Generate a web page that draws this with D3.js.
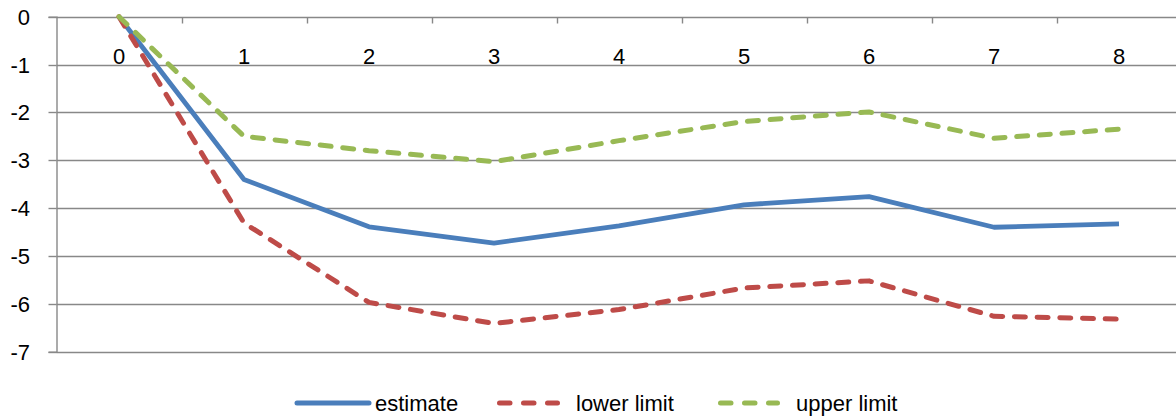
<!DOCTYPE html>
<html>
<head>
<meta charset="utf-8">
<script src="https://cdn.jsdelivr.net/npm/d3@7/dist/d3.min.js"></script>
<style>
  html, body { margin: 0; padding: 0; background: #fff; }
  svg { display: block; }
  text { font-family: "Liberation Sans", Arial, sans-serif; fill: #000; }
</style>
</head>
<body>
<svg id="chart" width="1176" height="418"></svg>
<script>
const categories = ["0", "1", "2", "3", "4", "5", "6", "7", "8"];
const estimate   = [0, -3.40, -4.39, -4.73, -4.37, -3.93, -3.76, -4.40, -4.33];
const lowerLimit = [0, -4.31, -5.97, -6.41, -6.12, -5.67, -5.52, -6.26, -6.32];
const upperLimit = [0, -2.50, -2.80, -3.03, -2.59, -2.19, -1.99, -2.54, -2.35];
const yTicks = [0, -1, -2, -3, -4, -5, -6, -7];
const seriesNames = ["estimate", "lower limit", "upper limit"];

const series = [
  { name: seriesNames[0], values: estimate,   color: "#4A7EBB", dash: null },
  { name: seriesNames[1], values: lowerLimit, color: "#BE4B48", dash: "11,11.7" },
  { name: seriesNames[2], values: upperLimit, color: "#98B954", dash: "11,11.7" }
];

const FS = 22;
const FF = "Liberation Sans, Arial, sans-serif";
const svg = d3.select("#chart");
const plotLeft = 56.5, plotRight = 1181.5, plotTop = 16.7, plotBottom = 351.7;

const x = d3.scaleBand().domain(categories).range([plotLeft, plotRight]).paddingInner(0).paddingOuter(0);
const y = d3.scaleLinear().domain([-7, 0]).range([plotBottom, plotTop]);
const cx = c => x(c) + x.bandwidth() / 2;

// gridlines
svg.append("g").selectAll("line").data(yTicks).join("line")
  .attr("x1", plotLeft).attr("x2", 1176)
  .attr("y1", d => Math.round(y(d)) + 0.5).attr("y2", d => Math.round(y(d)) + 0.5)
  .attr("stroke", "#888888").attr("stroke-width", 1.4);

// y axis
const yAxis = svg.append("g").attr("transform", `translate(${plotLeft},0)`)
  .call(d3.axisLeft(y).tickValues(yTicks).tickSize(8).tickPadding(18.5).tickFormat(d => String(d)));
yAxis.select(".domain").attr("stroke", "#888888").attr("stroke-width", 1.4);
yAxis.selectAll(".tick line").attr("stroke", "#888888").attr("stroke-width", 1.4);
yAxis.selectAll(".tick").attr("transform", d => `translate(0,${Math.round(y(d)) + 0.5})`);
yAxis.selectAll(".tick text").attr("font-size", FS).attr("font-family", FF).attr("fill", "#000");

// x axis (at y = 0): labels at category centers, ticks at band boundaries
const y0 = Math.round(y(0)) + 0.5;
const xAxis = svg.append("g").attr("transform", `translate(0,${y0})`)
  .call(d3.axisBottom(x).tickSize(0).tickPadding(31));
xAxis.select(".domain").remove();
xAxis.selectAll(".tick text").attr("font-size", FS).attr("font-family", FF).attr("fill", "#000");

svg.append("g").selectAll("line").data(categories.slice(1)).join("line")
  .attr("x1", d => Math.round(x(d)) + 0.5).attr("x2", d => Math.round(x(d)) + 0.5)
  .attr("y1", y0).attr("y2", y0 + 6)
  .attr("stroke", "#888888").attr("stroke-width", 1.4);

// lines
const line = d3.line().x((d, i) => cx(categories[i])).y(d => y(d));
svg.append("g").selectAll("path").data(series).join("path")
  .attr("d", d => line(d.values))
  .attr("fill", "none")
  .attr("stroke", d => d.color)
  .attr("stroke-width", d => d.dash ? 5 : 4.8)
  .attr("stroke-linecap", d => d.dash ? "round" : "butt")
  .attr("stroke-linejoin", "round")
  .attr("stroke-dasharray", d => d.dash);

// legend
const legendItems = [
  { x1: 297, x2: 369, tx: 375 },
  { x1: 499.5, x2: 557.5, tx: 576 },
  { x1: 720.5, x2: 777.5, tx: 796 }
];
const ly = 403;
const lg = svg.append("g");
series.forEach((s, i) => {
  const it = legendItems[i];
  lg.append("line")
    .attr("x1", it.x1).attr("x2", it.x2).attr("y1", ly).attr("y2", ly)
    .attr("stroke", s.color).attr("stroke-width", 5)
    .attr("stroke-linecap", "round")
    .attr("stroke-dasharray", s.dash ? "10.5,13.5" : null);
  lg.append("text").attr("x", it.tx).attr("y", ly).attr("dy", "0.35em")
    .attr("font-size", FS).attr("font-family", FF).text(s.name);
});
</script>
</body>
</html>
